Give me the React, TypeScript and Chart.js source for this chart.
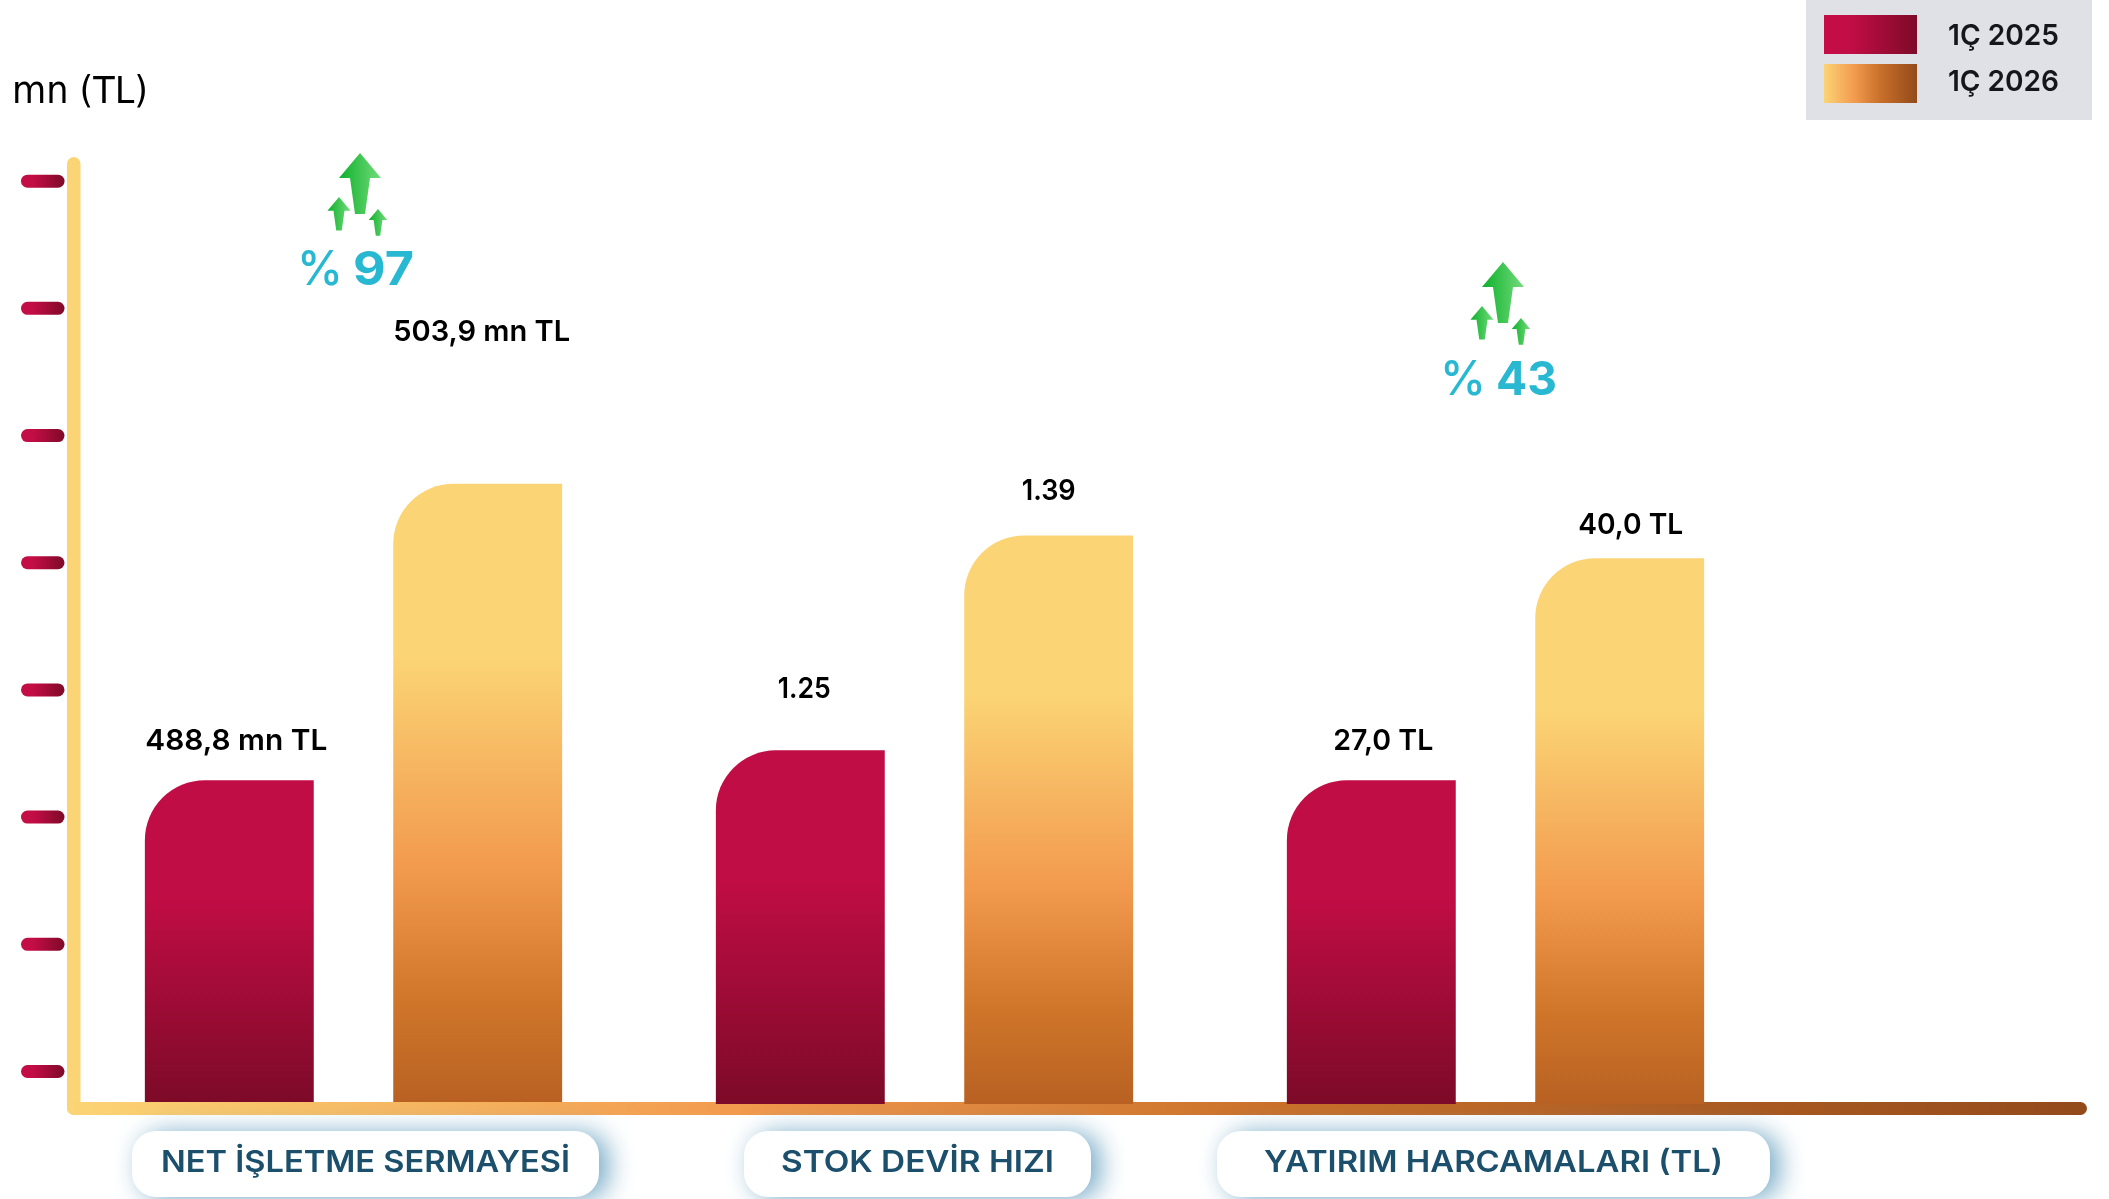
import React, { useEffect, useRef } from "react";
import { Chart, registerables } from "chart.js";

Chart.register(...registerables);

const categories = ["NET İŞLETME SERMAYESİ", "STOK DEVİR HIZI", "YATIRIM HARCAMALARI (TL)"];
const seriesNames = ["1Ç 2025", "1Ç 2026"];
// bar heights as plotted in the picture (the picture is not to one common scale)
const heights2025 = [253, 276.5, 253];
const heights2026 = [486, 445.5, 427.5];
const bottoms = [0, -1.6, -1.6];
const labels2025 = ["488,8 mn TL", "1.25", "27,0 TL"];
const labels2026 = ["503,9 mn TL", "1.39", "40,0 TL"];
const yTicks = [24, 124, 224, 324, 424, 524, 624, 724];
const changes = ["% 97", null, "% 43"];

const FONT = "Inter, 'Noto Sans', sans-serif";
const RED_STOPS: [number, string][] = [[0, "#C10D45"], [0.36, "#C10D45"], [1, "#7D0A28"]];
const GOLD_STOPS: [number, string][] = [[0, "#FBD475"], [0.28, "#FBD475"], [0.62, "#F29A4E"], [0.84, "#CF752A"], [1, "#B86122"]];
const RED_H: [number, string][] = [[0, "#C50D48"], [0.3, "#C10D45"], [1, "#7D0A28"]];
const GOLD_H: [number, string][] = [[0, "#FBD475"], [0.33, "#F29A4E"], [0.6, "#C9702A"], [1, "#934A1B"]];

const grad = (ctx: CanvasRenderingContext2D, x0: number, y0: number, x1: number, y1: number, stops: [number, string][]) => {
  const g = ctx.createLinearGradient(x0, y0, x1, y1);
  stops.forEach(([o, c]) => g.addColorStop(o, c));
  return g;
};

const fitText = (ctx: any, text: string, x: number, y: number, font: string, color: string, width: number, align = "left") => {
  ctx.save();
  ctx.font = font;
  ctx.fillStyle = color;
  ctx.textBaseline = "middle";
  ctx.textAlign = "left";
  const m = ctx.measureText(text).width;
  const left = align === "center" ? x - width / 2 : x;
  ctx.translate(left, y);
  ctx.scale(width / m, 1);
  ctx.fillText(text, 0, 0);
  ctx.restore();
};

const arrow = (ctx: CanvasRenderingContext2D, tipX: number, tipY: number, k: number) => {
  const p = [[0, 0], [21, 25], [10, 25], [5, 61], [-5, 61], [-10, 25], [-21, 25]];
  ctx.beginPath();
  p.forEach(([a, b], i) => (i ? ctx.lineTo(tipX + a * k, tipY + b * k) : ctx.moveTo(tipX + a * k, tipY + b * k)));
  ctx.closePath();
  ctx.fillStyle = grad(ctx, tipX - 21 * k, 0, tipX + 21 * k, 0, [[0, "#0DB02B"], [1, "#74DC7C"]]);
  ctx.fill();
};

const pillBoxes = [
  { x: 132, w: 467, tx: 161, tw: 409 },
  { x: 744, w: 347, tx: 781, tw: 273 },
  { x: 1217, w: 553, tx: 1264, tw: 459 },
];
const labelOffsets = [
  [[7, -39, 182], [4, -152, 177]],
  [[4, -61, 53], [0, -44, 54]],
  [[12, -39, 100], [11, -33, 105]],
];
const changePlaces = [
  { tipX: 360, tipY: 153, textX: 300, textY: 271 },
  null,
  { tipX: 1503, tipY: 262, textX: 1443, textY: 381 },
];
const legendTextY = [36.5, 82.5];

const decor = {
  id: "decor",
  beforeDatasetsDraw(chart: any) {
    const { ctx, scales } = chart;
    const y = scales.y;
    ctx.save();
    // value ticks
    yTicks.forEach((v) => {
      const py = y.getPixelForValue(v);
      ctx.beginPath();
      ctx.roundRect(21, py - 6.5, 43.5, 13, 6.5);
      ctx.fillStyle = grad(ctx, 21, 0, 64.5, 0, RED_H);
      ctx.fill();
    });
    // axes
    ctx.beginPath();
    ctx.roundRect(67, 157, 13.5, 958, [7, 7, 0, 7]);
    ctx.fillStyle = "#FBD475";
    ctx.fill();
    ctx.beginPath();
    ctx.roundRect(67, 1102, 2020, 13, [0, 6.5, 6.5, 7]);
    ctx.fillStyle = grad(ctx, 67, 0, 2087, 0, GOLD_H);
    ctx.fill();
    ctx.restore();
  },
  afterDatasetsDraw(chart: any) {
    const { ctx, scales } = chart;
    const x = scales.x;
    ctx.save();
    // unit
    fitText(ctx, "mn (TL)", 12, 93, "37px 'DejaVu Sans'", "#000", 136);

    // data labels
    chart.data.datasets.forEach((ds: any, di: number) => {
      const meta = chart.getDatasetMeta(di);
      meta.data.forEach((bar: any, i: number) => {
        const [dx, dy, w] = labelOffsets[i][di];
        fitText(ctx, ds.valueLabels[i], bar.x + dx, bar.y + dy, `600 29px ${FONT}`, "#000", w, "center");
      });
    });

    // category pills
    categories.forEach((c, i) => {
      const p = pillBoxes[i];
      ctx.save();
      ctx.shadowColor = "rgba(110,165,195,0.95)";
      ctx.shadowBlur = 26;
      ctx.shadowOffsetX = 9;
      ctx.shadowOffsetY = 2;
      ctx.fillStyle = "#fff";
      ctx.beginPath();
      ctx.roundRect(p.x, 1131, p.w, 66, 24);
      ctx.fill();
      ctx.restore();
      fitText(ctx, x.getLabelForValue(i), p.tx, 1163, `600 30px ${FONT}`, "#1B4F6B", p.tw);
    });

    // change markers
    changes.forEach((t, i) => {
      const pl = changePlaces[i];
      if (!t || !pl) return;
      arrow(ctx, pl.tipX, pl.tipY, 1);
      arrow(ctx, pl.tipX - 21, pl.tipY + 44, 0.55);
      arrow(ctx, pl.tipX + 18, pl.tipY + 56, 0.44);
      const [pc, num] = t.split(" ");
      fitText(ctx, pc, pl.textX - 3, pl.textY, `500 48px ${FONT}`, "#29B8D2", 46);
      fitText(ctx, num, pl.textX + 53, pl.textY, `700 47px ${FONT}`, "#29B8D2", 61);
    });

    // legend
    ctx.fillStyle = "#E0E1E6";
    ctx.fillRect(1806, 0, 286, 120);
    seriesNames.forEach((n, i) => {
      const top = i ? 64 : 15;
      ctx.fillStyle = grad(ctx, 1824, 0, 1917, 0, i ? GOLD_H : RED_H);
      ctx.fillRect(1824, top, 93, 39);
      fitText(ctx, chart.data.datasets[i].label, 1948, legendTextY[i], `600 29px ${FONT}`, "#14161C", 111);
    });
    ctx.restore();
  },
};

const barFill = (stops: [number, string][]) => (c: any) => {
  const { chart, parsed } = c;
  const y = chart.scales.y;
  if (!parsed || !y) return stops[0][1];
  const top = y.getPixelForValue(parsed.y);
  const bottom = y.getPixelForValue(0);
  if (!Number.isFinite(top) || !Number.isFinite(bottom)) return stops[0][1];
  return grad(chart.ctx, 0, top, 0, bottom, stops);
};

const span = (heights: number[]) => heights.map((h, i) => [bottoms[i], h]);

export default function App() {
  const ref = useRef<HTMLCanvasElement>(null);
  useEffect(() => {
    const chart = new Chart(ref.current!, {
      type: "bar",
      data: {
        labels: categories,
        datasets: [
          { label: seriesNames[0], data: span(heights2025), valueLabels: labels2025, clip: false, backgroundColor: barFill(RED_STOPS) } as any,
          { label: seriesNames[1], data: span(heights2026), valueLabels: labels2026, clip: false, backgroundColor: barFill(GOLD_STOPS) } as any,
        ],
      },
      options: {
        responsive: false,
        animation: false,
        devicePixelRatio: 1,
        layout: { padding: { left: 68, right: 328, top: 157, bottom: 97 } },
        datasets: {
          bar: {
            categoryPercentage: 0.87,
            barPercentage: 0.68,
            borderRadius: { topLeft: 60, topRight: 0, bottomLeft: 0, bottomRight: 0 },
            borderSkipped: false,
          },
        },
        plugins: { legend: { display: false }, tooltip: { enabled: false }, title: { display: false } },
        scales: {
          x: { display: false, grid: { display: false } },
          y: { display: false, min: 0, max: 743, grid: { display: false } },
        },
      },
      plugins: [decor],
    } as any);
    return () => chart.destroy();
  }, []);
  return (
    <div style={{ position: "absolute", left: 0, top: 0, width: 2109, height: 1199, background: "#fff", overflow: "hidden" }}>
      <canvas ref={ref} width={2109} height={1199} style={{ display: "block" }} />
    </div>
  );
}
